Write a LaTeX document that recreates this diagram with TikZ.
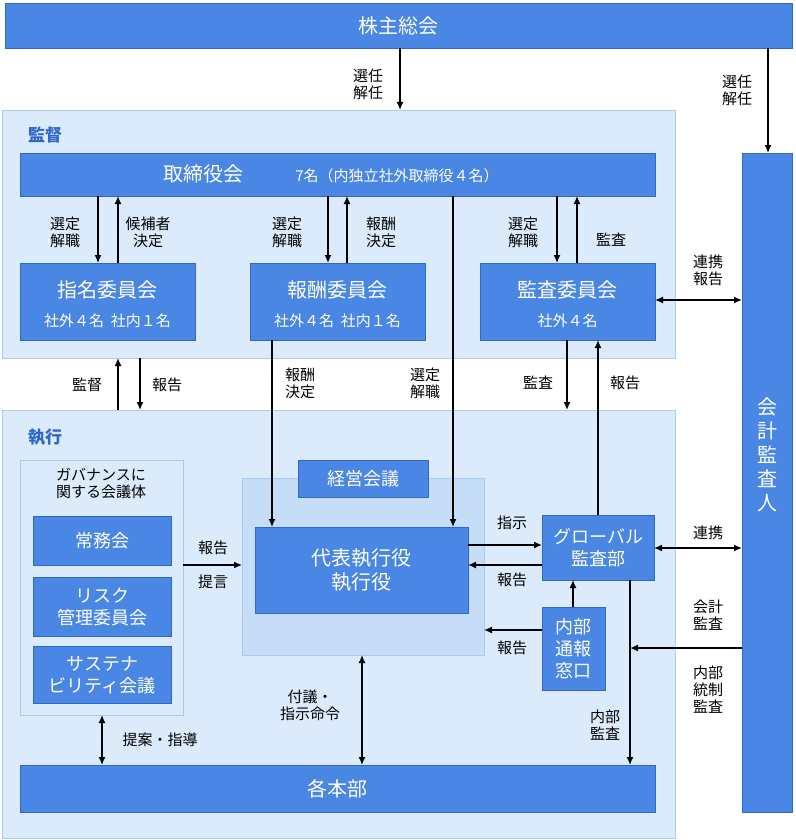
\documentclass[tikz,border=0pt]{standalone}
\usepackage{fontspec}
\setmainfont{Noto Sans CJK JP}
\usetikzlibrary{arrows.meta}
\definecolor{bb}{HTML}{4A86E3}
\definecolor{bd}{HTML}{2F68C8}
\definecolor{lr}{HTML}{DCEBFC}
\definecolor{lrb}{HTML}{A9CDF2}
\definecolor{lg}{HTML}{C6DDF8}
\begin{document}
\begin{tikzpicture}[x=1pt,y=-1pt,
 blue/.style={draw=bd,fill=bb,text=white,line width=0.8pt},
 reg/.style={draw=lrb,fill=lr,line width=0.8pt},
 lab/.style={font=\fontsize{15}{17}\selectfont,align=center,inner sep=0pt},
 big/.style={font=\fontsize{20}{24}\selectfont},
 mid/.style={font=\fontsize{15}{17}\selectfont},
 ar/.style={-{Latex[length=8pt,width=7pt]},line width=1.4pt},
 dar/.style={{Latex[length=8pt,width=7pt]}-{Latex[length=8pt,width=7pt]},line width=1.4pt}]
\useasboundingbox (0,0) rectangle (795,840);
% regions
\draw[reg] (2,110) rectangle (675,358);
\draw[reg] (2,410) rectangle (675,838);
\node[lab,text=bd,font=\bfseries\fontsize{17}{19}\selectfont] at (45,135) {監督};
\node[lab,text=bd,font=\bfseries\fontsize{17}{19}\selectfont] at (45,437) {執行};
% top bar
\node[blue,big,minimum width=787,minimum height=45,anchor=north west] (ks) at (5,3) {株主総会};
\node[blue,minimum width=50,minimum height=659,anchor=north west] (ka) at (742,153) {};
\node[text=white,big,align=center,inner sep=0pt] at (767,455) {会\\計\\監\\査\\人};
% board
\node[blue,minimum width=635,minimum height=43,anchor=north west] (tb) at (20,153) {};
\node[text=white,big] at (203,174) {取締役会};
\node[text=white,mid] at (397,176) {7名（内独立社外取締役４名）};
% committees
\foreach \n/\x/\t/\s in {sm/20/指名委員会/社外４名\ \ 社内１名, hs/250/報酬委員会/社外４名\ \ 社内１名, ks2/480/監査委員会/社外４名}{
 \node[blue,minimum width=175,minimum height=77,anchor=north west] (\n) at (\x,263) {};
 \node[text=white,big] at (\x+87.5,290) {\t};
 \node[text=white,mid] at (\x+87.5,321) {\s};
}
% arrows top
\draw[ar] (400,48) -- (400,110);
\node[lab] at (368,84) {選任\\解任};
\draw[ar] (768,48) -- (768,153);
\node[lab] at (737,90) {選任\\解任};
\draw[ar] (98,196) -- (98,263); \draw[ar] (118,263) -- (118,196);
\node[lab] at (65,232) {選定\\解職}; \node[lab] at (148,232) {候補者\\決定};
\draw[ar] (328,196) -- (328,263); \draw[ar] (347,263) -- (347,196);
\node[lab] at (287,232) {選定\\解職}; \node[lab] at (381,232) {報酬\\決定};
\draw[ar] (557,196) -- (557,263); \draw[ar] (577,263) -- (577,196);
\node[lab] at (523,232) {選定\\解職}; \node[lab] at (611,240) {監査};
\draw[dar] (655,300) -- (742,300);
\node[lab] at (708,270) {連携\\報告};
% between regions
\draw[ar] (118,410) -- (118,358); \draw[ar] (140,358) -- (140,410);
\node[lab] at (87,385) {監督}; \node[lab] at (167,385) {報告};
% governance
\draw[reg] (20,460) rectangle (183,715);
\node[lab] at (101,483) {ガバナンスに\\関する会議体};
\node[blue,font=\fontsize{18}{22}\selectfont,minimum width=138,minimum height=49,anchor=north west] (jm) at (33,516) {常務会};
\node[blue,font=\fontsize{18}{22}\selectfont,align=center,minimum width=138,minimum height=59,anchor=north west,inner sep=0pt] (rk) at (33,577) {リスク\\管理委員会};
\node[blue,font=\fontsize{18}{22}\selectfont,align=center,minimum width=138,minimum height=57,anchor=north west,inner sep=0pt] (st) at (33,646) {サステナ\\ビリティ会議};
% management meeting
\draw[draw=lrb,fill=lg,line width=0.8pt] (242,478) rectangle (484,655);
\node[blue,font=\fontsize{18}{22}\selectfont,minimum width=130,minimum height=37,anchor=north west] (kk) at (298,460) {経営会議};
\node[blue,big,align=center,minimum width=213,minimum height=86,anchor=north west,inner sep=0pt] (ds) at (255,527) {代表執行役\\執行役};
\draw[ar] (272,340) -- (272,527);
\node[lab] at (300,383) {報酬\\決定};
\draw[ar] (453,196) -- (453,527);
\node[lab] at (425,383) {選定\\解職};
\draw[ar] (567,340) -- (567,410);
\node[lab] at (538,383) {監査};
\draw[ar] (598,515) -- (598,340);
\node[lab] at (625,383) {報告};
\draw[ar] (183,565) -- (242,565);
\node[lab] at (213,548) {報告}; \node[lab] at (213,582) {提言};
% global audit
\node[blue,font=\fontsize{18}{22}\selectfont,align=center,minimum width=112,minimum height=65,anchor=north west,inner sep=0pt] (ga) at (542,515) {グローバル\\監査部};
\draw[ar] (468,545) -- (542,545); \node[lab] at (512,523) {指示};
\draw[ar] (542,565) -- (468,565); \node[lab] at (512,580) {報告};
\draw[dar] (654,548) -- (742,548); \node[lab] at (708,533) {連携};
\node[blue,font=\fontsize{18}{22}\selectfont,align=center,minimum width=63,minimum height=83,anchor=north west,inner sep=0pt] (nt) at (542,607) {内部\\通報\\窓口};
\draw[ar] (573,607) -- (573,580);
\draw[ar] (542,630) -- (484,630); \node[lab] at (512,648) {報告};
\draw[ar] (630,580) -- (630,765); \node[lab] at (605,725) {内部\\監査};
\draw[ar] (742,648) -- (630,648);
\node[lab] at (708,615) {会計\\監査}; \node[lab] at (708,690) {内部\\統制\\監査};
% bottom
\node[blue,big,minimum width=635,minimum height=47,anchor=north west] (kh) at (20,765) {各本部};
\draw[dar] (362,655) -- (362,765); \node[lab] at (310,705) {付議・\\指示命令};
\draw[dar] (102,715) -- (102,765); \node[lab] at (160,740) {提案・指導};
\end{tikzpicture}
\end{document}
